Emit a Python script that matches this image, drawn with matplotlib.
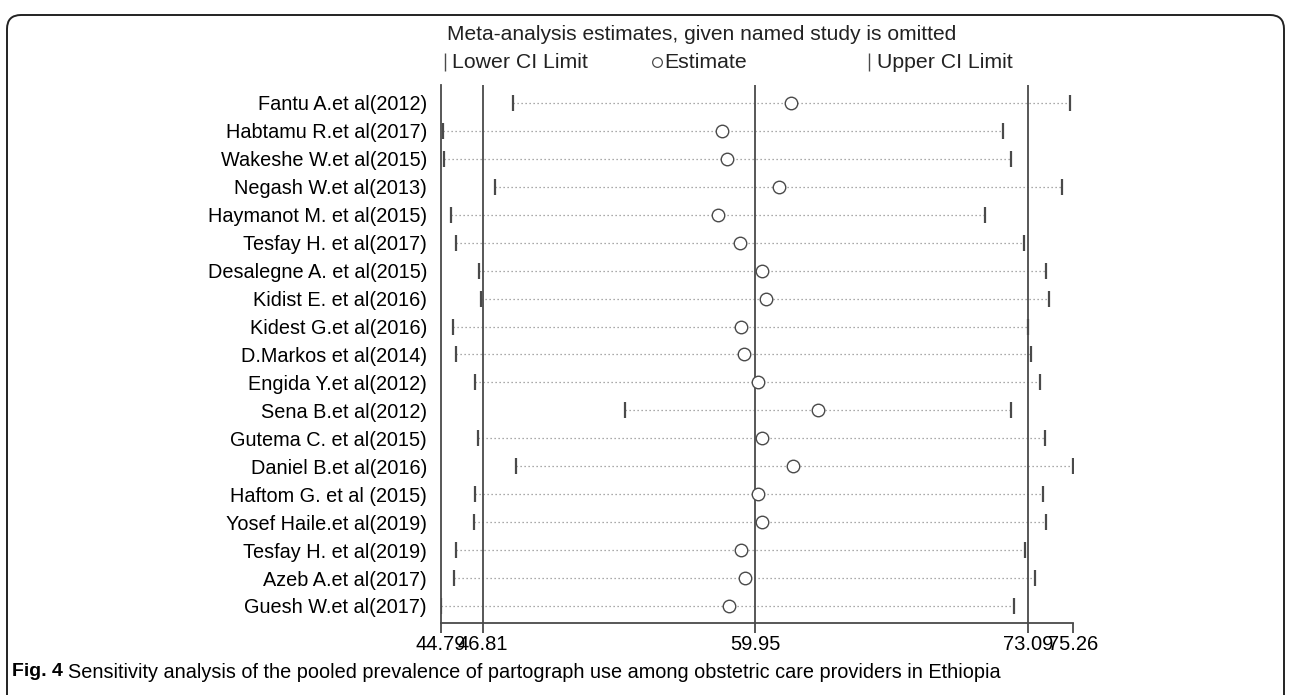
import numpy as np
import matplotlib.pyplot as plt
from matplotlib.lines import Line2D
from matplotlib.patches import FancyBboxPatch

plt.rcParams['font.family'] = ['Liberation Sans', 'DejaVu Sans']

studies = ['Fantu A.et al(2012)', 'Habtamu R.et al(2017)', 'Wakeshe W.et al(2015)',
           'Negash W.et al(2013)', 'Haymanot M. et al(2015)', 'Tesfay H. et al(2017)',
           'Desalegne A. et al(2015)', 'Kidist E. et al(2016)', 'Kidest G.et al(2016)',
           'D.Markos et al(2014)', 'Engida Y.et al(2012)', 'Sena B.et al(2012)',
           'Gutema C. et al(2015)', 'Daniel B.et al(2016)', 'Haftom G. et al (2015)',
           'Yosef Haile.et al(2019)', 'Tesfay H. et al(2019)', 'Azeb A.et al(2017)',
           'Guesh W.et al(2017)']
estimate = [61.67, 58.34, 58.60, 61.08, 58.13, 59.21, 60.29, 60.45, 59.23, 59.39,
            60.09, 62.99, 60.29, 61.77, 60.09, 60.25, 59.23, 59.43, 58.68]
lower = [48.27, 44.90, 44.95, 47.39, 45.26, 45.52, 46.62, 46.72, 45.36, 45.52,
         46.44, 53.66, 46.58, 48.41, 46.42, 46.36, 45.52, 45.40, 44.79]
upper = [75.10, 71.90, 72.25, 74.73, 71.01, 72.92, 73.95, 74.10, 73.10, 73.22,
         73.65, 72.27, 73.90, 75.26, 73.80, 73.95, 72.95, 73.45, 72.41]
# pooled estimate and its CI, plus axis ends
pooled = [46.81, 59.95, 73.09]
xticks = [44.79, 46.81, 59.95, 73.09, 75.26]
xticklabels = ['44.79', '46.81', '59.95', '73.09', '75.26']

W, H = 1290, 695
fig = plt.figure(figsize=(W / 100, H / 100), dpi=100)
ax = fig.add_axes([441 / W, 1 - 623 / H, (1073 - 441) / W, (623 - 85) / H])

y = np.arange(1, len(studies) + 1)
dark = '#4a4a4a'
for yi, lo, hi in zip(y, lower, upper):
    ax.plot([lo, hi], [yi, yi], color='#8e8e8e', lw=0.9, ls=(0, (1, 2.2)), zorder=1)
ax.plot(lower, y, ls='none', marker='|', ms=11, mew=1.6, color=dark, zorder=3)
ax.plot(upper, y, ls='none', marker='|', ms=11, mew=1.6, color=dark, zorder=3)
ax.plot(estimate, y, ls='none', marker='o', ms=9, mfc='white', mec=dark, mew=1.0, zorder=4)
for p in pooled:
    ax.axvline(p, color=dark, lw=1.3, zorder=2)

ax.set_xlim(xticks[0], xticks[-1])
ax.set_ylim(19.61, 0.356)
ax.set_xticks(xticks)
ax.set_xticklabels(xticklabels, fontsize=14.5)
ax.set_yticks(y)
ax.set_yticklabels(studies, fontsize=14.3)
ax.tick_params(axis='y', length=0, pad=10)
ax.tick_params(axis='x', direction='out', length=7, width=1.3, color=dark, pad=2)
for s in ['top', 'right']:
    ax.spines[s].set_visible(False)
for s in ['left', 'bottom']:
    ax.spines[s].set_color(dark)
    ax.spines[s].set_linewidth(1.3)

# title and legend above the plot
fig.text(447 / W, 1 - 35 / H, 'Meta-analysis estimates, given named study is omitted',
         fontsize=15.1, color='#222222', va='center', ha='left')
leg_y = 1 - 62 / H
fig.add_artist(Line2D([445 / W], [leg_y], marker='|', ms=13, mew=1.0, color=dark))
fig.text(452 / W, leg_y, 'Lower CI Limit', fontsize=15.3, color='#222222', va='center')
fig.add_artist(Line2D([657 / W], [leg_y], marker='o', ms=7, mfc='white', mec=dark, mew=0.9))
fig.text(664 / W, leg_y, 'Estimate', fontsize=15.3, color='#222222', va='center')
fig.add_artist(Line2D([869 / W], [leg_y], marker='|', ms=13, mew=1.0, color=dark))
fig.text(877 / W, leg_y, 'Upper CI Limit', fontsize=15.3, color='#222222', va='center')

# caption
fig.text(12 / W, 1 - 672 / H, 'Fig. 4', fontsize=14, fontweight='bold', va='center')
fig.text(68 / W, 1 - 672 / H,
         'Sensitivity analysis of the pooled prevalence of partograph use among '
         'obstetric care providers in Ethiopia',
         fontsize=14.3, va='center')

# rounded frame around the figure
box = FancyBboxPatch((0.07, -0.4), 12.77, 6.8 + 0.4,
                     boxstyle='round,pad=0,rounding_size=0.14',
                     transform=fig.dpi_scale_trans, fill=False,
                     ec='#222222', lw=1.4, clip_on=False)
fig.add_artist(box)

fig.savefig('out.png', dpi=100)
